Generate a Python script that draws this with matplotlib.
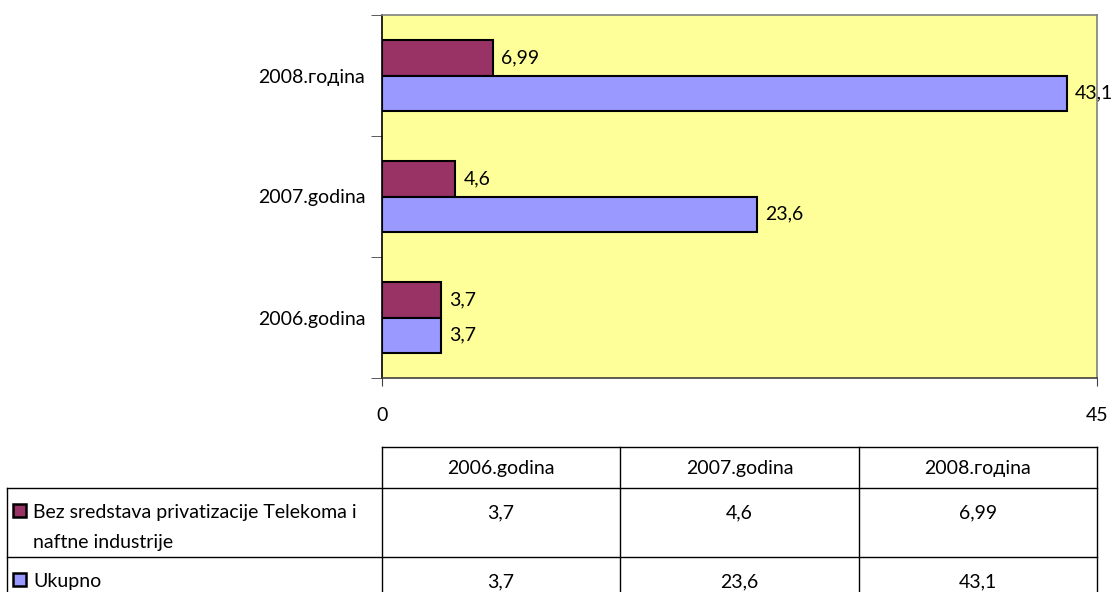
import matplotlib
matplotlib.use("Agg")
import matplotlib.pyplot as plt
from matplotlib.patches import Rectangle
import numpy as np

plt.rcParams['font.family'] = ['Lato', 'Noto Sans', 'DejaVu Sans']

categories = ["2006.godina", "2007.godina", "2008.годіna"]
series_names = ["Bez sredstava privatizacije Telekoma i\nnaftne industrije", "Ukupno"]
bez = [3.7, 4.6, 6.99]
ukupno = [3.7, 23.6, 43.1]
bez_labels = ["3,7", "4,6", "6,99"]
ukupno_labels = ["3,7", "23,6", "43,1"]
colors = ["#993366", "#9999FF"]

W, H = 1115, 592
fig = plt.figure(figsize=(W / 100, H / 100), dpi=100)
FS = 14

ax = fig.add_axes([382 / W, 1 - 378 / H, 715 / W, 363 / H])
ax.set_facecolor("#FFFF99")
y = np.arange(len(categories))
h = 0.29
ax.barh(y + h / 2, bez, height=h, color=colors[0], edgecolor="black", linewidth=1.5)
ax.barh(y - h / 2, ukupno, height=h, color=colors[1], edgecolor="black", linewidth=1.5)
for i in range(len(categories)):
    ax.annotate(bez_labels[i], (bez[i], y[i] + h / 2), xytext=(6, 0), textcoords="offset points",
                va="center", ha="left", fontsize=FS, annotation_clip=False)
    ax.annotate(ukupno_labels[i], (ukupno[i], y[i] - h / 2), xytext=(6, 0), textcoords="offset points",
                va="center", ha="left", fontsize=FS, annotation_clip=False)

ax.set_xlim(0, 45)
ax.set_ylim(-0.5, len(categories) - 0.5)
ax.set_xticks([0, 45])
ax.set_xticklabels(["0", "45"], fontsize=FS)
ax.tick_params(axis="x", direction="out", length=6, pad=15, color="#404040")
ax.set_yticks(y)
ax.set_yticklabels(categories, fontsize=FS)
ax.tick_params(axis="y", length=0, pad=12)
ax.set_yticks(np.arange(len(categories) + 1) - 0.5, minor=True)
ax.tick_params(axis="y", which="minor", direction="out", length=8, color="#404040")
ax.spines["left"].set_color("black")
ax.spines["bottom"].set_color("#404040")
ax.spines["top"].set_color("#808080")
ax.spines["right"].set_color("#808080")
for s in ax.spines.values():
    s.set_linewidth(1.2)

# table
tax = fig.add_axes([0, 0, 1, 1])
tax.set_xlim(0, W)
tax.set_ylim(H, 0)
tax.axis("off")
cols = [382, 620, 859, 1097]
rows = [447, 488, 557, 600]
lk = dict(color="black", linewidth=1)
tax.plot([382, 1097], [447, 447], **lk)
for x in cols:
    tax.plot([x, x], [447, rows[-1]], **lk)
tax.plot([7, 7], [488, rows[-1]], **lk)
for r in rows[1:3]:
    tax.plot([7, 1097], [r, r], **lk)
for j, c in enumerate(categories):
    tax.text((cols[j] + cols[j + 1]) / 2, 474, c, ha="center", va="baseline", fontsize=FS)
data_labels = [bez_labels, ukupno_labels]
for k in range(2):
    top = rows[k + 1]
    base = top + 30
    tax.add_patch(Rectangle((13, top + 16), 13, 13, facecolor=colors[k], edgecolor="black", linewidth=1.8))
    for li, line in enumerate(series_names[k].split("\n")):
        tax.text(33, base + 30 * li, line, ha="left", va="baseline", fontsize=FS)
    for j in range(len(categories)):
        tax.text((cols[j] + cols[j + 1]) / 2, base, data_labels[k][j], ha="center", va="baseline", fontsize=FS)

fig.savefig("out.png", dpi=100)
